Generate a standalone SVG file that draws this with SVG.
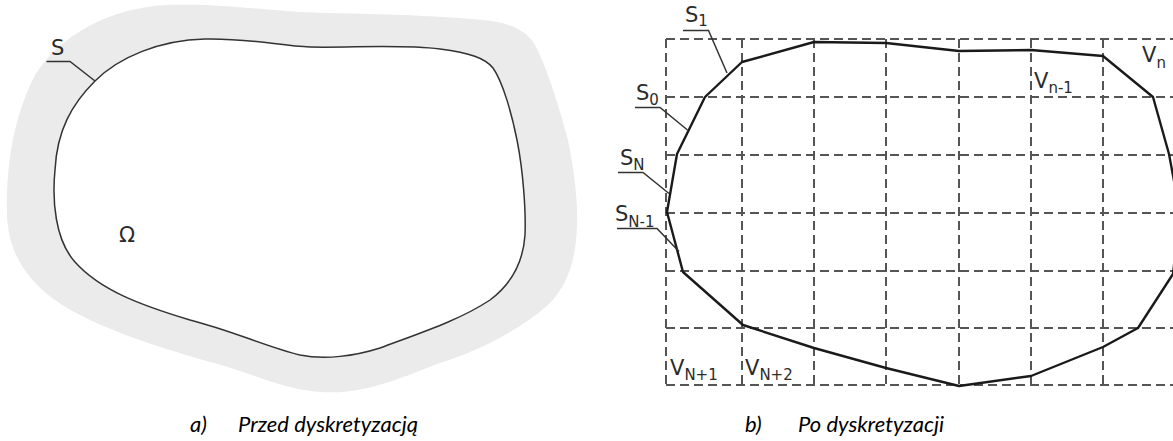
<svg xmlns="http://www.w3.org/2000/svg" width="1173" height="441" viewBox="0 0 1173 441">
<style>
.lbl{font-family:"DejaVu Sans",sans-serif;font-size:21px;fill:#2b2b2b}
.sub{font-size:15px}
.lead{fill:none;stroke:#333;stroke-width:1.5}
.grid{fill:none;stroke:#555;stroke-width:2;stroke-dasharray:9 5}
.cap{font-family:Lato,"Open Sans",sans-serif;font-style:italic;font-size:22px;fill:#000}
</style>
<rect width="1173" height="441" fill="#fff"/>
<g id="panel-a">
  <path id="region-band" fill="#ebebeb" d="M 166,5 C 220,3 260,10 300,12 C 350,14 420,14 483,20 C 505,22 525,28 535,45 C 548,70 560,110 568,140 C 574,170 578,200 577,225 C 576,260 568,285 548,305 C 520,330 480,350 440,363 C 400,378 365,395 320,392 C 280,389 250,372 210,362 C 150,345 90,325 55,300 C 20,275 8,245 7,215 C 6,170 12,120 35,75 C 60,35 110,8 166,5 Z"/>
  <path id="boundary-S" fill="#fff" stroke="#333" stroke-width="1.5" d="M 95,81 C 119,57 160,40 205,39 C 250,38 280,46 310,47 C 350,48 400,44 440,49 C 470,53 485,58 493,68 C 503,82 512,115 517,140 C 523,170 526,210 525,235 C 523,265 510,285 490,300 C 460,320 420,333 380,348 C 355,356 325,360 300,355 C 270,348 230,330 190,320 C 140,305 100,290 75,262 C 55,240 52,200 55,170 C 57,130 72,104 95,81 Z"/>
  <g id="label-S">
    <polyline class="lead" points="46.5,61.5 70,61.5 95,81"/>
    <text class="lbl" x="51" y="55">S</text>
  </g>
  <text id="label-omega" class="lbl" x="119" y="242" font-size="20">Ω</text>
</g>
<g id="panel-b">
  <g id="grid">
    <path class="grid" d="M666,39H1173 M666,97H1173 M666,155H1173 M666,213H1173 M666,271H1173 M666,328H1173 M666,385H1173"/>
    <path class="grid" d="M666,39V385 M742,39V385 M814,39V385 M886,39V385 M959,39V385 M1031,39V385 M1103,39V385"/>
  </g>
  <polygon id="discrete-boundary" fill="none" stroke="#1a1a1a" stroke-width="2.4" stroke-linejoin="round" points="677,154 705,97 742,62 814,42 886,43 959,51 1031,50 1103,56 1153,97 1169,154 1180,213 1173,274 1138,328 1103,347 1031,376 959,386 886,368 814,348 743,325 683,272 667,212"/>
  <g id="connectors">
    <polyline class="lead" points="683,30.5 708.5,30.5 727,73"/>
    <polyline class="lead" points="635,107.5 660,107.5 687.5,130"/>
    <polyline class="lead" points="618,172.5 643,172.5 669,193.5"/>
    <polyline class="lead" points="617,228.5 657,228.5 679,251.5"/>
  </g>
  <g id="label-S1"><text class="lbl" x="685" y="22">S<tspan class="sub" dy="3.5">1</tspan></text></g>
  <g id="label-S0"><text class="lbl" x="636" y="100">S<tspan class="sub" dy="5">0</tspan></text></g>
  <g id="label-SN"><text class="lbl" x="620" y="165">S<tspan class="sub" dy="5">N</tspan></text></g>
  <g id="label-SN-1"><text class="lbl" x="615" y="221">S<tspan class="sub" dy="6">N-1</tspan></text></g>
  <g id="label-Vn-1"><text class="lbl" x="1034" y="88">V<tspan class="sub" dy="5">n-1</tspan></text></g>
  <g id="label-Vn"><text class="lbl" x="1142" y="62">V<tspan class="sub" dy="6">n</tspan></text></g>
  <g id="label-VN+1"><text class="lbl" x="670" y="375">V<tspan class="sub" dy="5">N+1</tspan></text></g>
  <g id="label-VN+2"><text class="lbl" x="745" y="375">V<tspan class="sub" dy="5">N+2</tspan></text></g>
</g>
<g id="captions">
  <text class="cap" x="190" y="432">a)</text>
  <text class="cap" x="238" y="432">Przed dyskretyzacją</text>
  <text class="cap" x="745" y="432">b)</text>
  <text class="cap" x="798" y="432">Po dyskretyzacji</text>
</g>
</svg>
